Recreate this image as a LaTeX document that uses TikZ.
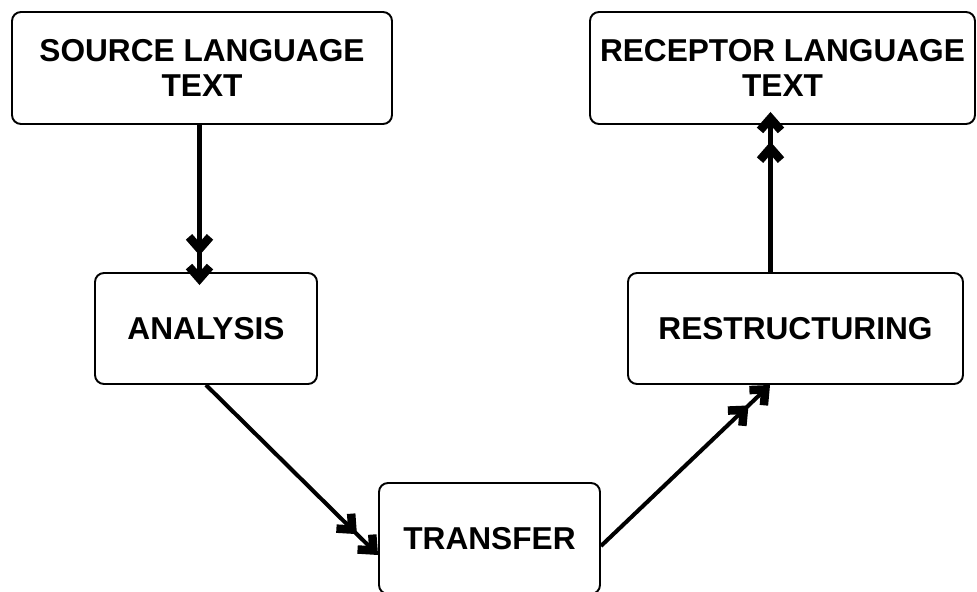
\documentclass[tikz,border=0pt]{standalone}
\usepackage{fontspec}
\setsansfont{Liberation Sans}
\usepackage{tikz}
\usetikzlibrary{arrows.meta,positioning}
\tikzset{
  trbox/.style={draw,line width=1.1pt,rounded corners=1.8mm,fill=white,inner sep=0pt,align=center,font=\sffamily\bfseries\fontsize{18}{20}\selectfont,minimum height=22.2mm},
  trflow/.style={-{Straight Barb[length=2.4mm,width=4.2mm,line width=1.7mm,sep=1.4mm]Straight Barb[length=2.4mm,width=4.2mm,line width=1.7mm]},line width=2.3pt},
}

\begin{document}
\begin{tikzpicture}
\useasboundingbox (0,0) rectangle (19.54,-11.84);
\node[trbox,minimum width=76mm,minimum height=22.4mm] (src) at (4.04,-1.36) {SOURCE LANGUAGE\\TEXT};
\node[trbox,minimum width=77mm,minimum height=22.4mm] (rec) at (15.65,-1.36) {RECEPTOR LANGUAGE\\TEXT};
\node[trbox,minimum width=44.4mm] (ana) at (4.12,-6.57) {ANALYSIS};
\node[trbox,minimum width=67mm] (res) at (15.91,-6.57) {RESTRUCTURING};
\node[trbox,minimum width=44.2mm] (tra) at (9.79,-10.77) {TRANSFER};
\draw[trflow,shorten >=-2.6mm]([xshift=-0.5mm]src.south)--([xshift=-0.5mm]src.south |- ana.north);
\draw[trflow](ana.south)--([yshift=-3.3mm]tra.west);
\draw[trflow]([yshift=-1.5mm]tra.east)--([xshift=-5.1mm]res.south);
\draw[trflow,shorten >=-2.6mm]([xshift=-5mm]res.north)--([xshift=-5mm]res.north |- rec.south);
\end{tikzpicture}
\end{document}
